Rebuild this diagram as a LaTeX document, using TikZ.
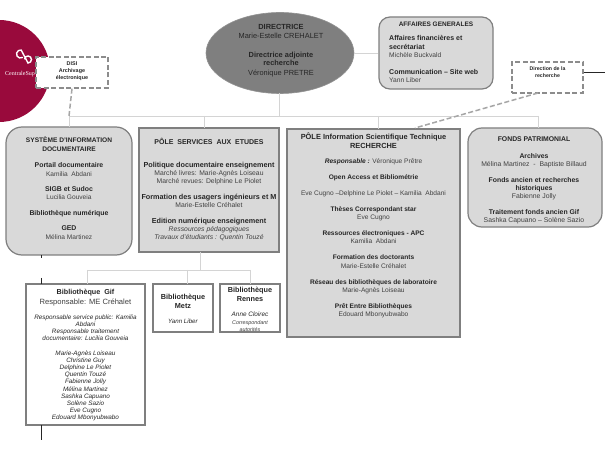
\documentclass[tikz,border=0pt]{standalone}
\usepackage{fontspec}
\setmainfont{Liberation Sans}
\newfontfamily\logofont{Liberation Serif}
\usetikzlibrary{shapes.geometric,calc}
\definecolor{panel}{HTML}{D9D9D9}
\definecolor{edgegrey}{HTML}{7F7F7F}
\definecolor{wire}{HTML}{D4D4D4}
\definecolor{dashgrey}{HTML}{A6A6A6}
\definecolor{crimson}{HTML}{990A3C}
\definecolor{txt}{HTML}{404040}
\definecolor{head}{HTML}{262626}
\newcommand{\hd}[1]{\textbf{\textcolor{head}{#1}}}
\newcommand{\hdsize}[2]{{\fontsize{#1}{8}\selectfont\hd{#2}}}
\tikzset{
 roundbox/.style={draw=edgegrey,line width=1.2pt,fill=panel,rounded corners=#1,inner sep=0pt},
 squarebox/.style={draw=edgegrey,line width=1.3pt,fill=panel,inner sep=0pt},
 whitebox/.style={draw=edgegrey,line width=1.5pt,fill=white,inner sep=0pt},
 dashbox/.style={draw=edgegrey!90!white,line width=1.3pt,dash pattern=on 5pt off 2.5pt,fill=white,inner sep=0pt},
 block/.style={inner sep=0pt,align=center,text=txt,anchor=north},
 wireline/.style={draw=wire,line width=0.8pt},
 dashwire/.style={draw=dashgrey,line width=1.5pt,dash pattern=on 5pt off 2.5pt},
 darkwire/.style={draw=head,line width=0.6pt},
}
\begin{document}
\begin{tikzpicture}[x=1pt,y=-1pt]
\useasboundingbox (0,0) rectangle (605,454);
\fill[white] (0,0) rectangle (605,454);
% logo disc
\begin{scope}
\clip (0,0) rectangle (605,454);
\fill[crimson] (-1,71) circle[radius=51];
\end{scope}
\draw[white,line width=1.4pt,line cap=round] (22.5,57.5) arc[start angle=60,end angle=280,radius=4] -- (28,63) arc[start angle=90,end angle=-170,radius=3.5];
\node[inner sep=0pt,text=white,anchor=west,font=\fontsize{6}{6.5}\logofont] (logotext) at (5,74.5) {CentraleSup};

% boxes
\node[dashbox,minimum width=72pt,minimum height=31pt] (disi) at (72,72.5) {};
\node[ellipse,fill=edgegrey,draw=edgegrey!85!white,line width=0.6pt,inner sep=0pt,minimum width=148pt,minimum height=81pt] (dir) at (280,53) {};
\node[roundbox=11pt,minimum width=114pt,minimum height=72pt] (aff) at (436,53) {};
\node[dashbox,minimum width=71pt,minimum height=31pt] (drech) at (547.5,77.5) {};
\node[roundbox=16pt,minimum width=126pt,minimum height=128pt] (sys) at (69,191) {};
\node[squarebox,minimum width=140pt,minimum height=124pt] (serv) at (209,190) {};
\node[squarebox,minimum width=173pt,minimum height=208pt] (info) at (373.5,233) {};
\node[roundbox=14pt,minimum width=134pt,minimum height=99pt] (fonds) at (535,177.5) {};
\node[whitebox,minimum width=119pt,minimum height=141pt] (gif) at (85.5,354.5) {};
\node[whitebox,minimum width=60pt,minimum height=48pt] (metz) at (183,308) {};
\node[whitebox,minimum width=60pt,minimum height=48pt] (rennes) at (250,308) {};

% junctions
\coordinate (jdir) at (279,116);
\coordinate (jsys) at (69,116);
\coordinate (jserv) at (204,116);
\coordinate (jinfo) at (378,116);
\coordinate (jfonds) at (538,116);
\coordinate (jsub) at (200,270);
\coordinate (jgif) at (87,270);
\coordinate (jmetz) at (187,270);
\coordinate (jrennes) at (250,270);
\coordinate (far) at (605,72);
\coordinate (dashend) at (415,128);
\coordinate (dashstart) at (538,93);
\coordinate (sysdrop) at (69,127);

\draw[wireline] (279,93) -- (jdir);
\draw[wireline] (jsys) -- (jfonds);
\draw[wireline] (jsys) -- (sysdrop);
\draw[wireline] (jserv) -- (204,128);
\draw[wireline] (jinfo) -- (378,129);
\draw[wireline] (jfonds) -- (538,128);
\draw[wireline] (dir.east) -- (aff.west);
\draw[wireline] (200,252) -- (jsub);
\draw[wireline] (jgif) -- (jrennes);
\draw[wireline] (jgif) -- (87,284);
\draw[wireline] (jmetz) -- (187,284);
\draw[wireline] (jrennes) -- (250,284);
\draw[dashwire] (disi.south) -- (jsys);
\draw[dashwire] (dashstart) -- (dashend);
\draw[head,line width=0.7pt] (drech.east |- far) -- (far);
\draw[darkwire] (41,255) -- (41,258);
\draw[darkwire] (41,278) -- (41,284);
\draw[darkwire] (41,425) -- (41,440);

% texts
\node[block,font=\fontsize{5.4}{7}\selectfont] (disit) at (72,62) {\hd{DISI}\\\hd{Archivage}\\\hd{électronique}};
\node[block,font=\fontsize{7.4}{9}\selectfont,text=head] (dirt) at (281,24) {\hd{DIRECTRICE}\\Marie-Estelle CREHALET\\[10pt]\hd{Directrice adjointe}\\[-0.5pt]\hd{recherche}\\[1pt]Véronique PRETRE};
\node[block,font=\fontsize{6.5}{8}\selectfont\bfseries] (afft) at (436,21.5) {\textcolor{head}{AFFAIRES GENERALES}};
\node[block,align=left,anchor=north west,font=\fontsize{6.7}{8.4}\selectfont] (affb) at (389,35.5) {\hdsize{7}{Affaires financières et}\\\hdsize{7}{secrétariat}\\Michèle Buckvald\\[8pt]\hdsize{7}{Communication – Site web}\\Yann Liber};
\node[block,font=\fontsize{5.2}{7}\selectfont] (drt) at (547.5,67) {\hd{Direction de la}\\\hd{recherche}};
\node[block,font=\fontsize{6.6}{8.8}\selectfont] (syst) at (69,136.5) {\hd{SYSTÈME D’INFORMATION}\\\hd{DOCUMENTAIRE}\\[7.2pt]\hdsize{6.9}{Portail documentaire}\\Kamilia\ \ Abdani\\[6.2pt]\hdsize{6.9}{SIGB et Sudoc}\\Lucilia Gouveia\\[7.2pt]\hdsize{6.9}{Bibliothèque numérique}\\[6.2pt]\hdsize{6.9}{GED}\\Mélina Martinez};
\node[block,font=\fontsize{7}{9}\selectfont] (servh) at (209,138) {\hd{PÔLE\ \ SERVICES\ \ AUX\ \ ETUDES}};
\node[block,font=\fontsize{6.8}{8}\selectfont] (servt) at (209,162.5) {\hdsize{7.25}{Politique documentaire enseignement}\\Marché livres: Marie-Agnès Loiseau\\Marché revues: Delphine Le Piolet\\[8pt]\hdsize{7.25}{Formation des usagers ingénieurs et M}\\Marie-Estelle Créhalet\\[8pt]\hdsize{7.25}{Edition numérique enseignement}\\\textit{Ressources pédagogiques}\\\textit{Travaux d’étudiants : Quentin Touzé}};
\node[block,font=\fontsize{7.4}{9}\selectfont] (infoh) at (373.5,133) {\hd{PÔLE Information Scientifique Technique}\\\hd{RECHERCHE}};
\node[block,font=\fontsize{6.6}{8.2}\selectfont] (infot) at (373.5,158.5) {\textbf{\textit{\textcolor{head}{Responsable :}}} Véronique Prêtre\\[7.8pt]\hd{Open Access et Bibliométrie}\\[7.8pt]Eve Cugno –Delphine Le Piolet – Kamilia\ \ Abdani\\[7.8pt]\hd{Thèses Correspondant star}\\Eve Cugno\\[7.8pt]\hd{Ressources électroniques - APC}\\Kamilia\ \ Abdani\\[7.8pt]\hd{Formation des doctorants}\\Marie-Estelle Créhalet\\[7.8pt]\hd{Réseau des bibliothèques de laboratoire}\\Marie-Agnès Loiseau\\[7.8pt]\hd{Prêt Entre Bibliothèques}\\Edouard Mbonyubwabo};
\node[block,font=\fontsize{6.85}{8}\selectfont] (fondst) at (534,136.5) {\hd{FONDS PATRIMONIAL}\\[9pt]\hd{Archives}\\Mélina Martinez\ \ -\ \ Baptiste Billaud\\[8pt]\hd{Fonds ancien et recherches}\\\hd{historiques}\\Fabienne Jolly\\[8pt]\hd{Traitement fonds ancien Gif}\\Sashka Capuano – Solène Sazio};
\node[block,font=\fontsize{7.6}{9.5}\selectfont] (gifh) at (85.5,289.5) {\hdsize{7.2}{Bibliothèque\ \ Gif}\\Responsable: ME Créhalet};
\node[block,font=\fontsize{6.35}{7.2}\selectfont\itshape,text=head] (gift) at (85.5,314.5) {Responsable service public: Kamilia\\Abdani\\Responsable traitement\\documentaire: Lucilia Gouveia\\[7pt]Marie-Agnès Loiseau\\Christine Guy\\Delphine Le Piolet\\Quentin Touzé\\Fabienne Jolly\\Mélina Martinez\\Sashka Capuano\\Solène Sazio\\Eve Cugno\\Edouard Mbonyubwabo};
\node[block,font=\fontsize{7.3}{9}\selectfont] (metzt) at (183,294) {\hd{Bibliothèque}\\\hd{Metz}};
\node[block,font=\fontsize{6.2}{7}\selectfont\itshape] (metzn) at (183,319) {\textcolor{head}{Yann Liber}};
\node[block,font=\fontsize{7.3}{9}\selectfont] (rent) at (250,287) {\hd{Bibliothèque}\\\hd{Rennes}};
\node[block,font=\fontsize{6.4}{7.4}\selectfont\itshape] (renn) at (250,312) {\textcolor{head}{Anne Cloirec}};
\node[block,font=\fontsize{5.4}{7.2}\selectfont\itshape] (renc) at (250,320) {Correspondant\\autorités};
\end{tikzpicture}
\end{document}
